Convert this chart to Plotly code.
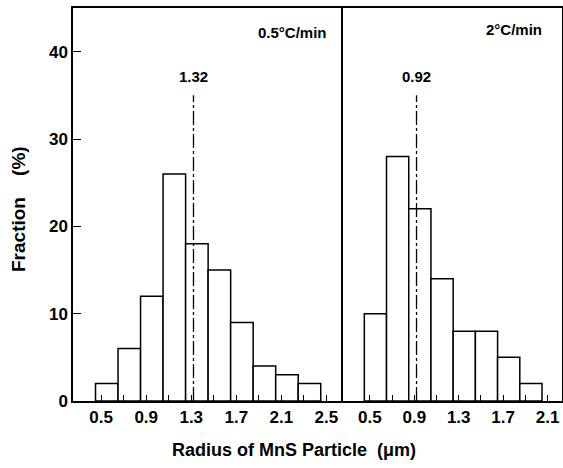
import plotly.graph_objects as go

# Data
centers_slow = [0.55, 0.75, 0.95, 1.15, 1.35, 1.55, 1.75, 1.95, 2.15, 2.35]
fraction_slow = [2, 6, 12, 26, 18, 15, 9, 4, 3, 2]
centers_fast = [0.55, 0.75, 0.95, 1.15, 1.35, 1.55, 1.75, 1.95]
fraction_fast = [10, 28, 22, 14, 8, 8, 5, 2]
mean_slow = 1.32
mean_fast = 0.92
mean_line_top = 35
panel_labels = ["0.5°C/min", "2°C/min"]
bin_width = 0.2

tick_vals_slow = [0.5, 0.7, 0.9, 1.1, 1.3, 1.5, 1.7, 1.9, 2.1, 2.3, 2.5]
tick_text_slow = ["0.5", "", "0.9", "", "1.3", "", "1.7", "", "2.1", "", "2.5"]
tick_vals_fast = [0.5, 0.7, 0.9, 1.1, 1.3, 1.5, 1.7, 1.9, 2.1]
tick_text_fast = ["0.5", "", "0.9", "", "1.3", "", "1.7", "", "2.1"]
y_ticks = [0, 10, 20, 30, 40]

FONT = "Liberation Sans, Arial, sans-serif"

W, H = 563, 468
L, R, T, B = 73, 1, 8, 67
PW = W - L - R
PH = H - T - B
bot_px = T + PH


def px_x(p):
    return (p - L) / PW


def px_y(p):
    return (bot_px - p) / PH


fig = go.Figure()
bar_style = dict(marker=dict(color="white", line=dict(color="black", width=1.5)),
                 width=bin_width, showlegend=False, hoverinfo="skip")
fig.add_trace(go.Bar(x=centers_slow, y=fraction_slow, xaxis="x", yaxis="y", **bar_style))
fig.add_trace(go.Bar(x=centers_fast, y=fraction_fast, xaxis="x2", yaxis="y2", **bar_style))

line_style = dict(color="black", width=1.3, dash="14px,3px,3px,3px")
fig.add_trace(go.Scatter(x=[mean_slow, mean_slow], y=[0, mean_line_top], mode="lines",
                         line=line_style, xaxis="x", yaxis="y", showlegend=False,
                         hoverinfo="skip"))
fig.add_trace(go.Scatter(x=[mean_fast, mean_fast], y=[0, mean_line_top], mode="lines",
                         line=line_style, xaxis="x2", yaxis="y2", showlegend=False,
                         hoverinfo="skip"))

tickfont = dict(family=FONT, size=17, color="black")
common_x = dict(showline=True, linecolor="black", linewidth=1.5, mirror=True,
                ticks="inside", ticklen=6, tickcolor="black", tickwidth=1.2,
                showgrid=False, zeroline=False, tickfont=tickfont, tickmode="array")

split = px_x(341)
fig.update_layout(
    width=W, height=H,
    margin=dict(l=L, r=R, t=T, b=B),
    paper_bgcolor="white", plot_bgcolor="white",
    barmode="overlay",
    xaxis=dict(domain=[0, split], range=[0.25, 2.63], anchor="y",
               tickvals=tick_vals_slow, ticktext=[f"<b>{t}</b>" if t else "" for t in tick_text_slow],
               **common_x),
    xaxis2=dict(domain=[split, 1], range=[0.24, 2.23], anchor="y2",
                tickvals=tick_vals_fast, ticktext=[f"<b>{t}</b>" if t else "" for t in tick_text_fast],
                **common_x),
    yaxis=dict(anchor="x", range=[0, 45], tickvals=y_ticks, ticktext=[f"<b>{v}</b>" for v in y_ticks],
               ticks="inside", ticklen=8, tickcolor="black", tickwidth=1.2,
               tickfont=tickfont, showline=True, linecolor="black", linewidth=1.5,
               mirror=True, showgrid=False, zeroline=False),
    yaxis2=dict(anchor="x2", matches="y", side="right", showticklabels=False, ticks="",
                showline=True, linecolor="black", linewidth=1.5, mirror=False,
                showgrid=False, zeroline=False),
)

ann_font = dict(family=FONT, size=15, color="black")
fig.add_annotation(x=mean_slow, y=37.2, xref="x", yref="y", text=f"<b>{mean_slow:.2f}</b>",
                   showarrow=False, font=ann_font, yanchor="middle", xanchor="center")
fig.add_annotation(x=mean_fast, y=37.2, xref="x2", yref="y2", text=f"<b>{mean_fast:.2f}</b>",
                   showarrow=False, font=ann_font, yanchor="middle", xanchor="center")
fig.add_annotation(x=px_x(329), y=px_y(33), xref="paper", yref="paper",
                   text=f"<b>{panel_labels[0]}</b>", showarrow=False, xanchor="right",
                   yanchor="middle", font=ann_font)
fig.add_annotation(x=px_x(544), y=px_y(30), xref="paper", yref="paper",
                   text=f"<b>{panel_labels[1]}</b>", showarrow=False, xanchor="right",
                   yanchor="middle", font=ann_font)

fig.add_annotation(x=px_x(294), y=px_y(450), xref="paper", yref="paper",
                   text="<b>Radius of MnS Particle  (μm)</b>", showarrow=False,
                   xanchor="center", yanchor="middle",
                   font=dict(family=FONT, size=18, color="black"))
fig.add_annotation(x=px_x(18), y=px_y(209), xref="paper", yref="paper",
                   text="<b>Fraction    (%)</b>", showarrow=False, textangle=-90,
                   xanchor="center", yanchor="middle",
                   font=dict(family=FONT, size=19, color="black"))

fig.write_html("out.html", config={"displayModeBar": False},
               post_script="document.body.style.margin='0';document.body.style.overflow='hidden';")
